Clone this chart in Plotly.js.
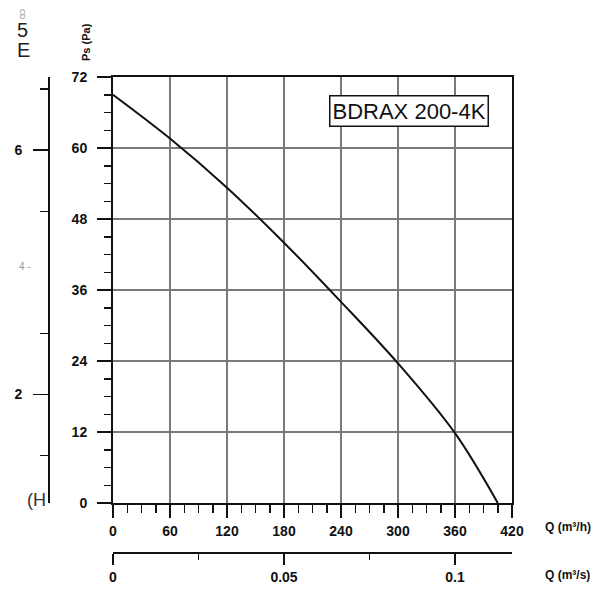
<!DOCTYPE html>
<html>
<head>
<meta charset="utf-8">
<script src="https://cdn.plot.ly/plotly-3.0.1.min.js"></script>
<style>html,body{margin:0;padding:0;background:#fff;}#chart{width:614px;height:590px;}</style>
</head>
<body>
<div id="chart"></div>
<script>
// Data
const flowM3h = [0, 60, 120, 180, 240, 300, 360, 405];
const pressurePa = [69, 61.6, 53.3, 44.0, 34.0, 23.6, 11.8, 0];
const xTickVals = [0, 60, 120, 180, 240, 300, 360, 420];
const yTickVals = [0, 12, 24, 36, 48, 60, 72];
const x2TickVals = [0, 0.05, 0.1];
const x2TickText = ['0', '0.05', '0.1'];
const y2TickVals = [2, 6];
const modelName = 'BDRAX 200-4K';

const W = 614, H = 590;
const px = v => v / W;
const py = v => 1 - v / H;

const tickFont = {family: 'Liberation Sans, Arial, sans-serif', size: 14, color: '#111', weight: 'bold'};
const labFont = {family: 'Liberation Sans, Arial, sans-serif', size: 12, color: '#111', weight: 'bold'};
const xDomain = [px(113), px(512)];

const traces = [
  {x: flowM3h, y: pressurePa, type: 'scatter', mode: 'lines',
   line: {color: '#111', width: 2, shape: 'spline', smoothing: 1}, hoverinfo: 'skip', showlegend: false},
  {x: [0, 0.1], y: [0, 0], xaxis: 'x2', yaxis: 'y', type: 'scatter', mode: 'markers',
   marker: {opacity: 0}, hoverinfo: 'skip', showlegend: false},
  {x: [0, 0], y: [2, 6], xaxis: 'x', yaxis: 'y2', type: 'scatter', mode: 'markers',
   marker: {opacity: 0}, hoverinfo: 'skip', showlegend: false}
];

const layout = {
  width: W, height: H,
  margin: {l: 0, r: 0, t: 0, b: 0},
  paper_bgcolor: '#fff', plot_bgcolor: '#fff',
  showlegend: false,
  xaxis: {
    domain: xDomain, range: [0, 420], tickvals: xTickVals, ticks: 'outside', ticklen: 13, tickwidth: 1.5,
    tickcolor: '#111', showline: true, linecolor: '#111', linewidth: 2, mirror: true,
    showgrid: true, gridcolor: '#7a7a7a', gridwidth: 1.5, zeroline: false,
    tickfont: tickFont, ticklabelstandoff: 1, fixedrange: true,
    minor: {dtick: 15, tick0: 0, ticks: 'outside', ticklen: 8, tickwidth: 1.5, tickcolor: '#111', showgrid: false}
  },
  yaxis: {
    domain: [py(503), py(77)], range: [0, 72], tickvals: yTickVals, ticks: 'outside', ticklen: 14, tickwidth: 1.5,
    tickcolor: '#111', showline: true, linecolor: '#111', linewidth: 2, mirror: true,
    showgrid: true, gridcolor: '#7a7a7a', gridwidth: 1.5, zeroline: false,
    tickfont: tickFont, ticklabelstandoff: 7, fixedrange: true,
    minor: {dtick: 3, tick0: 0, ticks: 'outside', ticklen: 7, tickwidth: 1.5, tickcolor: '#111', showgrid: false}
  },
  xaxis2: {
    domain: xDomain, range: [0, 420 / 3600], anchor: 'free', overlaying: 'x', position: py(552),
    side: 'bottom', tickvals: x2TickVals, ticktext: x2TickText, ticks: 'outside', ticklen: 11, tickwidth: 1.5,
    tickcolor: '#111', showline: true, linecolor: '#111', linewidth: 1.5, showgrid: false, zeroline: false,
    tickfont: tickFont, ticklabelstandoff: 1, fixedrange: true,
    minor: {tickvals: [0.025, 0.075], ticks: 'outside', ticklen: 6, tickwidth: 1.5, tickcolor: '#111', showgrid: false}
  },
  yaxis2: {
    domain: [py(490), py(77)], range: [13 / 59.3, 7.2], anchor: 'free', overlaying: 'y', position: px(48),
    side: 'left', tickvals: y2TickVals, ticks: 'outside', ticklen: 15, tickwidth: 1.5,
    tickcolor: '#111', showline: true, linecolor: '#111', linewidth: 1.5, showgrid: false, zeroline: false,
    tickfont: {family: 'Liberation Sans, Arial, sans-serif', size: 14, color: '#111', weight: 'bold'},
    ticklabelstandoff: 8, fixedrange: true,
    minor: {tickvals: [1, 3, 5, 7], ticks: 'outside', ticklen: 8, tickwidth: 1.5, tickcolor: '#111', showgrid: false}
  },
  annotations: [
    {text: modelName, xref: 'paper', yref: 'paper', x: px(408.5), y: py(111), xanchor: 'center', yanchor: 'middle',
     showarrow: false, font: {family: 'Liberation Sans, Arial, sans-serif', size: 22, color: '#111'},
     bordercolor: '#111', borderwidth: 1.5, borderpad: 2, bgcolor: '#fff'},
    {text: 'Ps (Pa)', xref: 'paper', yref: 'paper', x: px(86), y: py(42), textangle: -90,
     xanchor: 'center', yanchor: 'middle', showarrow: false, font: {family: 'Liberation Sans, Arial, sans-serif', size: 11, color: '#111', weight: 'bold'}},
    {text: 'Q (m³/h)', xref: 'paper', yref: 'paper', x: px(543), y: py(527), xanchor: 'left', yanchor: 'middle',
     showarrow: false, font: labFont},
    {text: 'Q (m³/s)', xref: 'paper', yref: 'paper', x: px(543), y: py(575), xanchor: 'left', yanchor: 'middle',
     showarrow: false, font: labFont},
    {text: '5', xref: 'paper', yref: 'paper', x: px(22), y: py(30), xanchor: 'center', yanchor: 'middle',
     showarrow: false, font: {family: 'Liberation Sans, Arial, sans-serif', size: 20, color: '#222'}},
    {text: 'CD', xref: 'paper', yref: 'paper', x: px(22), y: py(14), textangle: 90, xanchor: 'center', yanchor: 'middle',
     showarrow: false, font: {family: 'Liberation Sans, Arial, sans-serif', size: 7, color: '#888'}},
    {text: 'E', xref: 'paper', yref: 'paper', x: px(24), y: py(50), xanchor: 'center', yanchor: 'middle',
     showarrow: false, font: {family: 'Liberation Sans, Arial, sans-serif', size: 20, color: '#222'}},
    {text: '(H', xref: 'paper', yref: 'paper', x: px(36), y: py(500), xanchor: 'center', yanchor: 'middle',
     showarrow: false, font: {family: 'Liberation Sans, Arial, sans-serif', size: 18, color: '#333'}},
    {text: '4 -', xref: 'paper', yref: 'paper', x: px(25), y: py(266), xanchor: 'center', yanchor: 'middle',
     showarrow: false, font: {family: 'Liberation Sans, Arial, sans-serif', size: 10, color: '#999'}}
  ]
};

Plotly.newPlot('chart', traces, layout, {displayModeBar: false, staticPlot: true});
</script>
</body>
</html>
